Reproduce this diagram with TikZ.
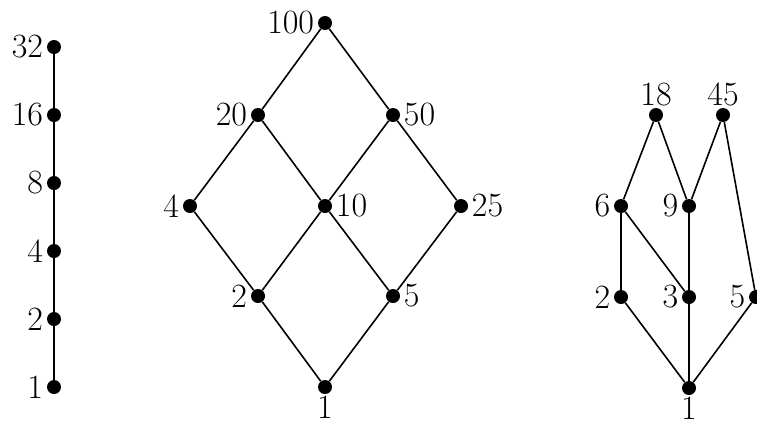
\documentclass[tikz,border=0pt]{standalone}
\usepackage{fontspec}
\setmainfont{Latin Modern Roman}
\newcommand\lbfont{\fontsize{34}{40}\selectfont}
\begin{document}
\begin{tikzpicture}[x=1pt,y=-1pt,
  dot/.style={circle,fill=black,inner sep=0pt,minimum size=14pt},
  lab/.style={inner sep=1pt,font=\lbfont},
  label distance=2.5pt,
  edge/.style={line width=1.6pt}]
\useasboundingbox (0,0) rectangle (757,421);
% chain
\node[dot,label={[lab]left:32}] (a32) at (54,47) {};
\node[dot,label={[lab]left:16}] (a16) at (54,115) {};
\node[dot,label={[lab]left:8}] (a8) at (54,183) {};
\node[dot,label={[lab]left:4}] (a4) at (54,251) {};
\node[dot,label={[lab]left:2}] (a2) at (54,319) {};
\node[dot,label={[lab]left:1}] (a1) at (54,387) {};
\draw[edge] (a1) -- (a2) -- (a4) -- (a8) -- (a16) -- (a32);
% divisors of 100
\node[dot,label={[lab]left:100}] (b100) at (325,23) {};
\node[dot,label={[lab]left:20}] (b20) at (258,115) {};
\node[dot,label={[lab]right:50}] (b50) at (393,115) {};
\node[dot,label={[lab]left:4}] (b4) at (190,206) {};
\node[dot,label={[lab]right:10}] (b10) at (325,206) {};
\node[dot,label={[lab]right:25}] (b25) at (461,206) {};
\node[dot,label={[lab]left:2}] (b2) at (258,296) {};
\node[dot,label={[lab]right:5}] (b5) at (393,296) {};
\node[dot,label={[lab,label distance=1pt]below:1}] (b1) at (325,387) {};
\draw[edge] (b1) -- (b2) -- (b4) -- (b20) -- (b100) -- (b50) -- (b25) -- (b5) -- (b1);
\draw[edge] (b2) -- (b10) -- (b50);
\draw[edge] (b5) -- (b10) -- (b20);
% right poset
\node[dot,label={[lab,label distance=1pt]above:18}] (c18) at (656,115) {};
\node[dot,label={[lab,label distance=1pt]above:45}] (c45) at (723,115) {};
\node[dot,label={[lab]left:6}] (c6) at (621,206) {};
\node[dot,label={[lab]left:9}] (c9) at (689,206) {};
\node[dot,label={[lab]left:2}] (c2) at (621,297) {};
\node[dot,label={[lab]left:3}] (c3) at (689,297) {};
\node[dot,label={[lab]left:5}] (c5) at (756,297) {};
\node[dot,label={[lab,label distance=1pt]below:1}] (c1) at (689,388) {};
\draw[edge] (c1) -- (c2) -- (c6) -- (c18) -- (c9) -- (c45) -- (c5) -- (c1);
\draw[edge] (c1) -- (c3) -- (c9);
\draw[edge] (c3) -- (c6);
\end{tikzpicture}
\end{document}
